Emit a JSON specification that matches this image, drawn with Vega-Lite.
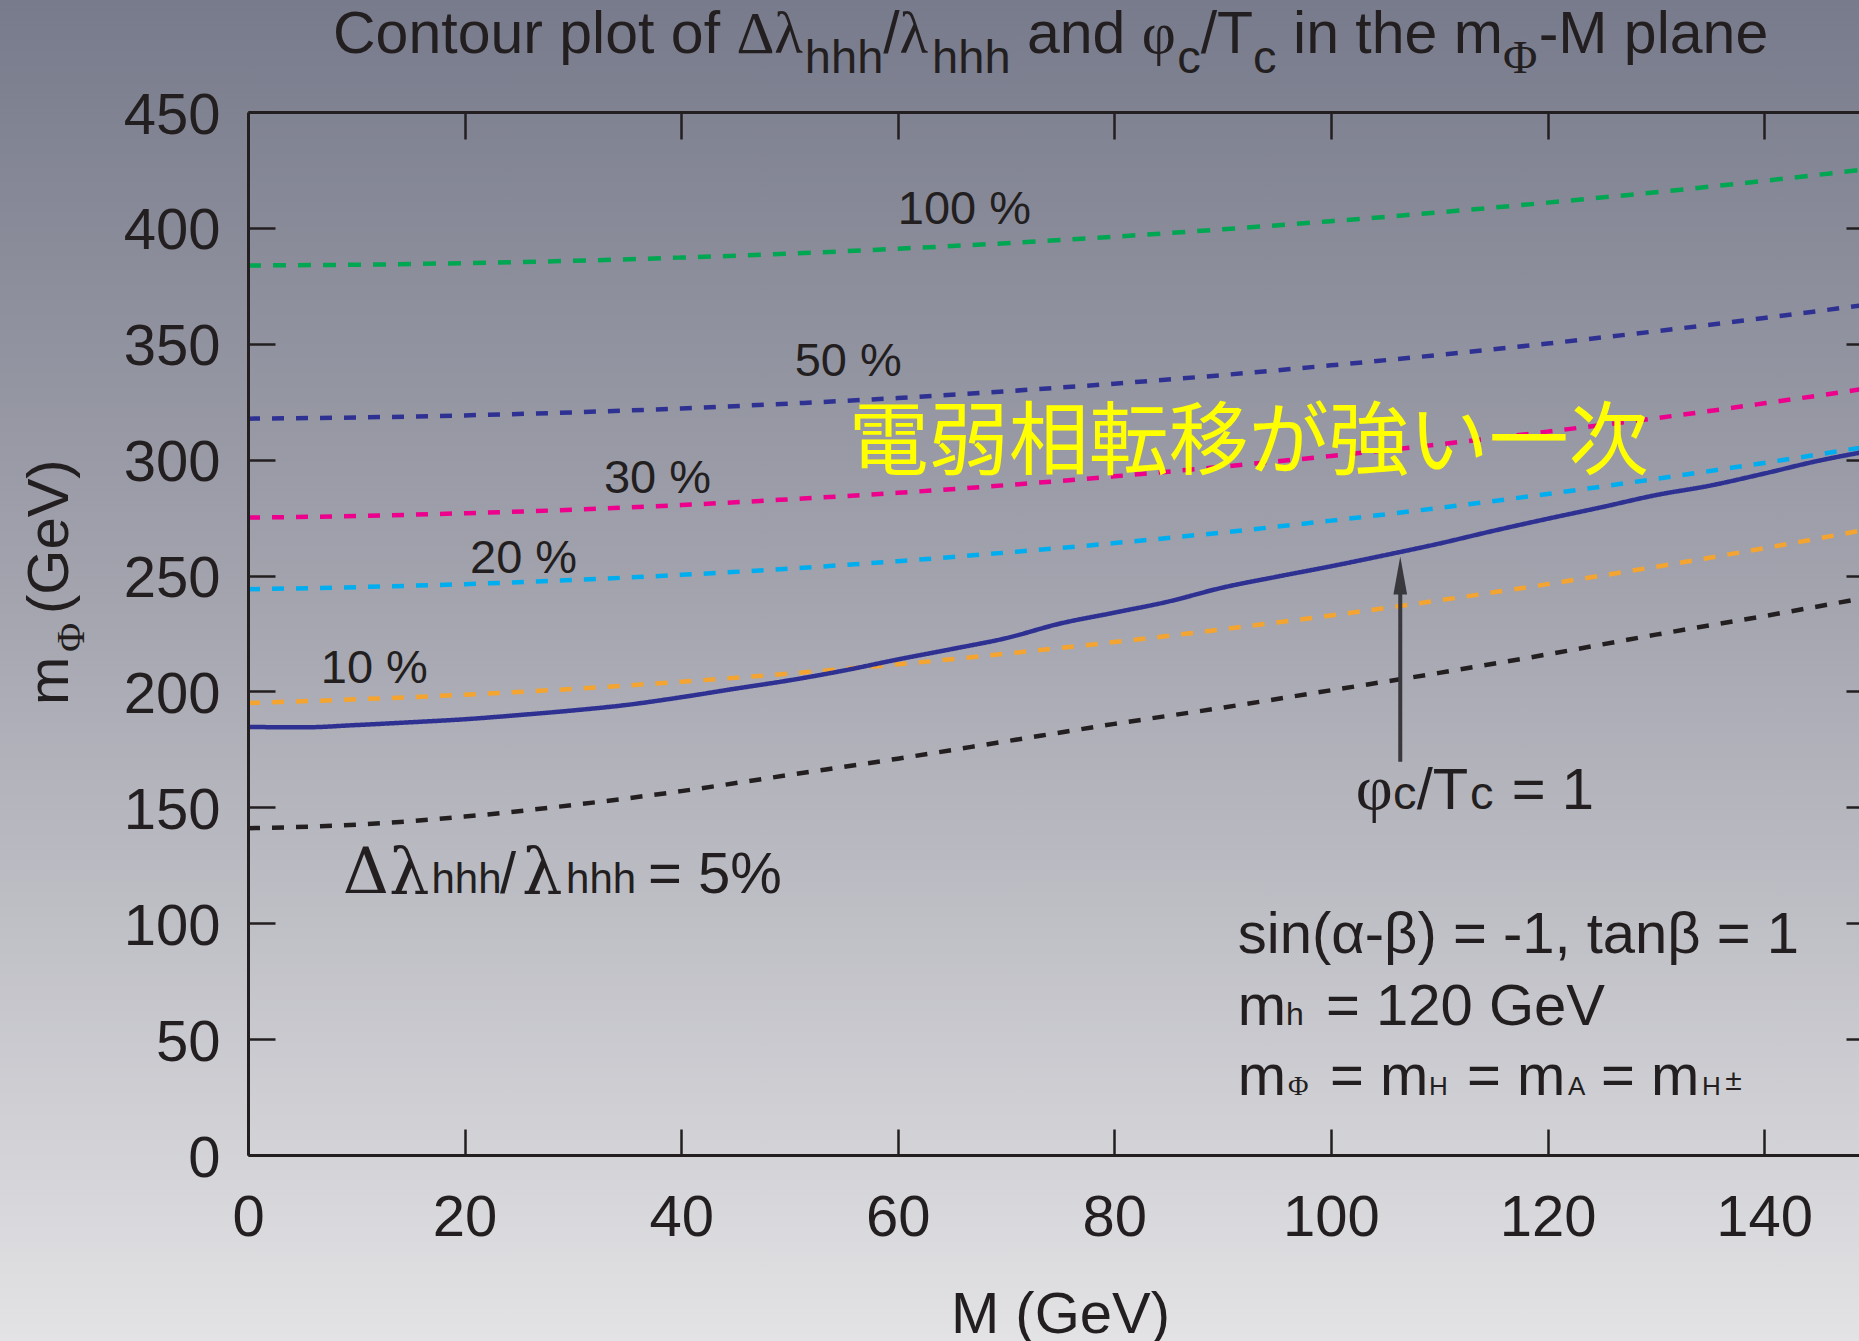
{
  "$schema": "https://vega.github.io/schema/vega-lite/v6.json",
  "width": 1611,
  "height": 1043,
  "autosize": {"type": "none"},
  "padding": {"left": 248, "top": 112, "right": 0, "bottom": 186},
  "background": "#a8a9b1",
  "config": {
    "view": {"stroke": null},
    "font": "Liberation Sans",
    "axis": {
      "grid": false,
      "domainColor": "#231f20",
      "tickColor": "#231f20",
      "labelColor": "#231f20",
      "titleColor": "#231f20",
      "domainWidth": 3,
      "tickWidth": 2.5,
      "labelFont": "Liberation Sans",
      "labelFontSize": 58,
      "titleFont": "Liberation Sans",
      "titleFontSize": 58,
      "titleFontWeight": "normal",
      "labelFlush": false,
      "labelOverlap": false,
      "labelBound": false
    }
  },
  "datasets": {
    "contours": [
      {"series": "100%", "M": 0, "mPhi": 383.8}, {"series": "100%", "M": 10, "mPhi": 384.1}, {"series": "100%", "M": 20, "mPhi": 384.8}, {"series": "100%", "M": 30, "mPhi": 385.8},
      {"series": "100%", "M": 40, "mPhi": 387.2}, {"series": "100%", "M": 50, "mPhi": 388.9}, {"series": "100%", "M": 60, "mPhi": 391.0}, {"series": "100%", "M": 70, "mPhi": 393.4},
      {"series": "100%", "M": 80, "mPhi": 396.2}, {"series": "100%", "M": 90, "mPhi": 399.4}, {"series": "100%", "M": 100, "mPhi": 402.9}, {"series": "100%", "M": 110, "mPhi": 406.7},
      {"series": "100%", "M": 120, "mPhi": 410.9}, {"series": "100%", "M": 130, "mPhi": 415.4}, {"series": "100%", "M": 140, "mPhi": 420.3}, {"series": "100%", "M": 150, "mPhi": 425.6},

      {"series": "50%", "M": 0, "mPhi": 317.7}, {"series": "50%", "M": 10, "mPhi": 318.2}, {"series": "50%", "M": 20, "mPhi": 319.1}, {"series": "50%", "M": 30, "mPhi": 320.4},
      {"series": "50%", "M": 40, "mPhi": 322.1}, {"series": "50%", "M": 50, "mPhi": 324.2}, {"series": "50%", "M": 60, "mPhi": 326.6}, {"series": "50%", "M": 70, "mPhi": 329.5},
      {"series": "50%", "M": 80, "mPhi": 332.8}, {"series": "50%", "M": 90, "mPhi": 336.5}, {"series": "50%", "M": 100, "mPhi": 340.7}, {"series": "50%", "M": 110, "mPhi": 345.2},
      {"series": "50%", "M": 120, "mPhi": 350.1}, {"series": "50%", "M": 130, "mPhi": 355.4}, {"series": "50%", "M": 140, "mPhi": 361.1}, {"series": "50%", "M": 150, "mPhi": 367.2},

      {"series": "30%", "M": 0, "mPhi": 275.0}, {"series": "30%", "M": 10, "mPhi": 275.7}, {"series": "30%", "M": 20, "mPhi": 276.9}, {"series": "30%", "M": 30, "mPhi": 278.4},
      {"series": "30%", "M": 40, "mPhi": 280.4}, {"series": "30%", "M": 50, "mPhi": 282.9}, {"series": "30%", "M": 60, "mPhi": 285.7}, {"series": "30%", "M": 70, "mPhi": 289.0},
      {"series": "30%", "M": 80, "mPhi": 292.8}, {"series": "30%", "M": 90, "mPhi": 297.0}, {"series": "30%", "M": 100, "mPhi": 301.6}, {"series": "30%", "M": 110, "mPhi": 306.6},
      {"series": "30%", "M": 120, "mPhi": 312.1}, {"series": "30%", "M": 130, "mPhi": 317.9}, {"series": "30%", "M": 140, "mPhi": 324.3}, {"series": "30%", "M": 150, "mPhi": 331.1},

      {"series": "20%", "M": 0, "mPhi": 244.1}, {"series": "20%", "M": 10, "mPhi": 245.0}, {"series": "20%", "M": 20, "mPhi": 246.3}, {"series": "20%", "M": 30, "mPhi": 248.1},
      {"series": "20%", "M": 40, "mPhi": 250.3}, {"series": "20%", "M": 50, "mPhi": 253.0}, {"series": "20%", "M": 60, "mPhi": 256.2}, {"series": "20%", "M": 70, "mPhi": 259.9},
      {"series": "20%", "M": 80, "mPhi": 264.0}, {"series": "20%", "M": 90, "mPhi": 268.6}, {"series": "20%", "M": 100, "mPhi": 273.7}, {"series": "20%", "M": 110, "mPhi": 279.2},
      {"series": "20%", "M": 120, "mPhi": 285.2}, {"series": "20%", "M": 130, "mPhi": 291.7}, {"series": "20%", "M": 140, "mPhi": 298.6}, {"series": "20%", "M": 150, "mPhi": 306.0},

      {"series": "10%", "M": 0, "mPhi": 195.0}, {"series": "10%", "M": 10, "mPhi": 196.6}, {"series": "10%", "M": 20, "mPhi": 198.6}, {"series": "10%", "M": 30, "mPhi": 201.1},
      {"series": "10%", "M": 40, "mPhi": 204.2}, {"series": "10%", "M": 50, "mPhi": 207.7}, {"series": "10%", "M": 60, "mPhi": 211.7}, {"series": "10%", "M": 70, "mPhi": 216.3},
      {"series": "10%", "M": 80, "mPhi": 221.3}, {"series": "10%", "M": 90, "mPhi": 226.8}, {"series": "10%", "M": 100, "mPhi": 232.8}, {"series": "10%", "M": 110, "mPhi": 239.3},
      {"series": "10%", "M": 120, "mPhi": 246.3}, {"series": "10%", "M": 130, "mPhi": 253.8}, {"series": "10%", "M": 140, "mPhi": 261.8}, {"series": "10%", "M": 150, "mPhi": 270.3},

      {"series": "5%", "M": 0, "mPhi": 141.0}, {"series": "5%", "M": 10, "mPhi": 142.5}, {"series": "5%", "M": 20, "mPhi": 146.0}, {"series": "5%", "M": 30, "mPhi": 151.0},
      {"series": "5%", "M": 40, "mPhi": 157.0}, {"series": "5%", "M": 50, "mPhi": 164.0}, {"series": "5%", "M": 60, "mPhi": 171.0}, {"series": "5%", "M": 70, "mPhi": 178.5},
      {"series": "5%", "M": 80, "mPhi": 186.0}, {"series": "5%", "M": 90, "mPhi": 193.0}, {"series": "5%", "M": 100, "mPhi": 200.5}, {"series": "5%", "M": 110, "mPhi": 208.0},
      {"series": "5%", "M": 120, "mPhi": 216.0}, {"series": "5%", "M": 130, "mPhi": 224.5}, {"series": "5%", "M": 140, "mPhi": 232.5}, {"series": "5%", "M": 150, "mPhi": 241.0},

      {"series": "φc/Tc = 1", "M": 0, "mPhi": 184.7}, {"series": "φc/Tc = 1", "M": 5, "mPhi": 184.5}, {"series": "φc/Tc = 1", "M": 10, "mPhi": 185.5}, {"series": "φc/Tc = 1", "M": 15, "mPhi": 186.7},
      {"series": "φc/Tc = 1", "M": 20, "mPhi": 188.0}, {"series": "φc/Tc = 1", "M": 25, "mPhi": 189.8}, {"series": "φc/Tc = 1", "M": 30, "mPhi": 191.8}, {"series": "φc/Tc = 1", "M": 35, "mPhi": 194.2},
      {"series": "φc/Tc = 1", "M": 40, "mPhi": 197.5}, {"series": "φc/Tc = 1", "M": 45, "mPhi": 201.2}, {"series": "φc/Tc = 1", "M": 50, "mPhi": 204.8}, {"series": "φc/Tc = 1", "M": 55, "mPhi": 209.0},
      {"series": "φc/Tc = 1", "M": 60, "mPhi": 213.8}, {"series": "φc/Tc = 1", "M": 65, "mPhi": 218.3}, {"series": "φc/Tc = 1", "M": 70, "mPhi": 223.0}, {"series": "φc/Tc = 1", "M": 75, "mPhi": 229.3},
      {"series": "φc/Tc = 1", "M": 80, "mPhi": 234.0}, {"series": "φc/Tc = 1", "M": 85, "mPhi": 238.8}, {"series": "φc/Tc = 1", "M": 90, "mPhi": 244.8}, {"series": "φc/Tc = 1", "M": 95, "mPhi": 249.5},
      {"series": "φc/Tc = 1", "M": 100, "mPhi": 254.0}, {"series": "φc/Tc = 1", "M": 105, "mPhi": 258.8}, {"series": "φc/Tc = 1", "M": 110, "mPhi": 263.8}, {"series": "φc/Tc = 1", "M": 115, "mPhi": 269.3},
      {"series": "φc/Tc = 1", "M": 120, "mPhi": 274.5}, {"series": "φc/Tc = 1", "M": 125, "mPhi": 279.5}, {"series": "φc/Tc = 1", "M": 130, "mPhi": 284.7}, {"series": "φc/Tc = 1", "M": 135, "mPhi": 288.8},
      {"series": "φc/Tc = 1", "M": 140, "mPhi": 294.0}, {"series": "φc/Tc = 1", "M": 145, "mPhi": 299.5}, {"series": "φc/Tc = 1", "M": 150, "mPhi": 304.0}
    ],
    "arrow": [{"M": 106.4, "from": 169.7, "to": 250.0}],
    "titleMain": [
      {"t": "Contour plot of", "x": 7.85, "y": 475.3},
      {"t": "/", "x": 58.66, "y": 475.3},
      {"t": "and", "x": 71.93, "y": 475.3},
      {"t": "/T", "x": 87.97, "y": 475.3},
      {"t": "in the m", "x": 96.5, "y": 475.3},
      {"t": "-M plane", "x": 119.18, "y": 475.3}
    ],
    "serif59": [
      {"t": "Δλ", "x": 45.1, "y": 475.3},
      {"t": "λ", "x": 60.17, "y": 475.3},
      {"t": "φ", "x": 82.53, "y": 475.3}
    ],
    "serif64": [
      {"t": "φ", "x": 102.3, "y": 149.2}
    ],
    "sans47": [
      {"t": "hhh", "x": 51.42, "y": 466.8},
      {"t": "hhh", "x": 63.17, "y": 466.8},
      {"t": "c", "x": 85.8, "y": 466.8},
      {"t": "c", "x": 92.81, "y": 466.8},
      {"t": "100 %", "x": 60.0, "y": 401.5},
      {"t": "50 %", "x": 50.48, "y": 336.2},
      {"t": "30 %", "x": 32.87, "y": 285.5},
      {"t": "20 %", "x": 20.5, "y": 251.0},
      {"t": "10 %", "x": 6.72, "y": 203.8},
      {"t": "c", "x": 105.73, "y": 149.2},
      {"t": "c", "x": 112.84, "y": 149.2}
    ],
    "serif47": [{"t": "Φ", "x": 115.88, "y": 466.8}],
    "sans58": [
      {"t": "/", "x": 23.27, "y": 112.9},
      {"t": "= 5%", "x": 36.94, "y": 112.9},
      {"t": "/T", "x": 107.92, "y": 149.2},
      {"t": "= 1", "x": 116.69, "y": 149.2},
      {"t": "sin(α-β) = -1, tanβ = 1", "x": 91.4, "y": 87.3},
      {"t": "m", "x": 91.4, "y": 56.1},
      {"t": "= 120 GeV", "x": 99.55, "y": 56.1},
      {"t": "m", "x": 91.4, "y": 25.9},
      {"t": "= m", "x": 99.92, "y": 25.9},
      {"t": "= m", "x": 112.56, "y": 25.9},
      {"t": "= m", "x": 124.94, "y": 25.9}
    ],
    "sans42": [
      {"t": "hhh", "x": 16.94, "y": 112.9},
      {"t": "hhh", "x": 29.37, "y": 112.9}
    ],
    "bigGreek": [
      {"t": "Δλ", "x": 8.75, "y": 112.9},
      {"t": "λ", "x": 25.3, "y": 112.9}
    ],
    "sans32": [{"t": "h", "x": 95.85, "y": 56.1}],
    "sans26": [
      {"t": "H", "x": 109.06, "y": 25.9},
      {"t": "A", "x": 121.89, "y": 25.9},
      {"t": "H", "x": 134.27, "y": 25.9}
    ],
    "sans30": [{"t": "±", "x": 136.4, "y": 28.0}],
    "serif28": [{"t": "Φ", "x": 96.04, "y": 25.9}],
    "yTitle": [
      {"t": "m", "x": -16.62, "y": 194.15},
      {"t": "(GeV)", "x": -16.62, "y": 233.4}
    ],
    "yTitleSub": [{"t": "Φ", "x": -15.14, "y": 217.0}],
    "note": [{"t": "電弱相転移が強い一次", "x": 55.47, "y": 296.5}]
  },
  "resolve": {"axis": {"x": "independent", "y": "independent"}},
  "layer": [
    {
      "data": {"values": [{}]},
      "mark": {
        "type": "rect",
        "fill": {
          "gradient": "linear", "x1": 0, "y1": 0, "x2": 0, "y2": 1,
          "stops": [
            {"offset": 0, "color": "#76798a"},
            {"offset": 0.45, "color": "#a3a4ae"},
            {"offset": 1, "color": "#e5e5e7"}
          ]
        }
      },
      "encoding": {
        "x": {"datum": -30, "type": "quantitative", "scale": {"domain": [0, 148.76], "nice": false, "zero": false}, "axis": null},
        "x2": {"datum": 160},
        "y": {"datum": 510, "type": "quantitative", "scale": {"domain": [0, 450], "nice": false, "zero": false}, "axis": null},
        "y2": {"datum": -90}
      }
    },
    {
      "data": {"name": "contours"},
      "mark": {"type": "line", "strokeWidth": 4.5, "interpolate": "monotone"},
      "encoding": {
        "x": {
          "field": "M", "type": "quantitative",
          "axis": {
            "orient": "bottom", "zindex": 2, "values": [0, 20, 40, 60, 80, 100, 120, 140],
            "tickSize": -26, "labelPadding": 60,
            "title": "M (GeV)", "titleX": 812, "titleY": 177,
            "titleAlign": "center", "titleBaseline": "alphabetic"
          }
        },
        "y": {
          "field": "mPhi", "type": "quantitative",
          "axis": {
            "orient": "left", "zindex": 2, "values": [0, 50, 100, 150, 200, 250, 300, 350, 400, 450],
            "tickSize": -27, "labelPadding": 55, "labelOffset": 4, "title": null
          }
        },
        "color": {
          "field": "series", "type": "nominal", "legend": null,
          "scale": {
            "domain": ["100%", "50%", "30%", "20%", "10%", "5%", "φc/Tc = 1"],
            "range": ["#00a651", "#2e3192", "#ec008c", "#00aeef", "#f4a431", "#231f20", "#2e3192"]
          }
        },
        "strokeDash": {
          "field": "series", "type": "nominal", "legend": null,
          "scale": {
            "domain": ["100%", "50%", "30%", "20%", "10%", "5%", "φc/Tc = 1"],
            "range": [[13, 12], [12, 12], [12, 12], [12, 12], [12, 12], [12, 12], [1, 0]]
          }
        }
      }
    },
    {
      "data": {"name": "arrow"},
      "mark": {"type": "rule", "strokeWidth": 4, "color": "#38383d"},
      "encoding": {
        "x": {
          "field": "M", "type": "quantitative",
          "axis": {
            "orient": "top", "zindex": 2, "values": [20, 40, 60, 80, 100, 120, 140],
            "tickSize": -27, "labels": false, "title": null
          }
        },
        "y": {
          "field": "from", "type": "quantitative",
          "axis": {
            "orient": "right", "zindex": 2, "values": [50, 100, 150, 200, 250, 300, 350, 400],
            "tickSize": -13, "labels": false, "domain": false, "title": null
          }
        },
        "y2": {"field": "to"}
      }
    },
    {
      "data": {"name": "arrow"},
      "mark": {"type": "point", "shape": "M0,-1L0.36,1L-0.36,1Z", "size": 1444, "filled": true, "color": "#38383d", "opacity": 1},
      "encoding": {
        "x": {"field": "M", "type": "quantitative", "axis": null},
        "y": {"field": "to", "type": "quantitative", "axis": null}
      }
    },
    {
      "data": {"name": "titleMain"},
      "mark": {"type": "text", "font": "Liberation Sans", "fontSize": 59, "align": "left", "baseline": "alphabetic", "color": "#231f20"},
      "encoding": {"x": {"field": "x", "type": "quantitative", "axis": null}, "y": {"field": "y", "type": "quantitative", "axis": null}, "text": {"field": "t"}}
    },
    {
      "data": {"name": "serif59"},
      "mark": {"type": "text", "font": "Liberation Serif", "fontSize": 59, "align": "left", "baseline": "alphabetic", "color": "#231f20"},
      "encoding": {"x": {"field": "x", "type": "quantitative", "axis": null}, "y": {"field": "y", "type": "quantitative", "axis": null}, "text": {"field": "t"}}
    },
    {
      "data": {"name": "serif64"},
      "mark": {"type": "text", "font": "Liberation Serif", "fontSize": 64, "align": "left", "baseline": "alphabetic", "color": "#231f20"},
      "encoding": {"x": {"field": "x", "type": "quantitative", "axis": null}, "y": {"field": "y", "type": "quantitative", "axis": null}, "text": {"field": "t"}}
    },
    {
      "data": {"name": "sans47"},
      "mark": {"type": "text", "font": "Liberation Sans", "fontSize": 47, "align": "left", "baseline": "alphabetic", "color": "#231f20"},
      "encoding": {"x": {"field": "x", "type": "quantitative", "axis": null}, "y": {"field": "y", "type": "quantitative", "axis": null}, "text": {"field": "t"}}
    },
    {
      "data": {"name": "serif47"},
      "mark": {"type": "text", "font": "Liberation Serif", "fontSize": 47, "align": "left", "baseline": "alphabetic", "color": "#231f20"},
      "encoding": {"x": {"field": "x", "type": "quantitative", "axis": null}, "y": {"field": "y", "type": "quantitative", "axis": null}, "text": {"field": "t"}}
    },
    {
      "data": {"name": "sans58"},
      "mark": {"type": "text", "font": "Liberation Sans", "fontSize": 58, "align": "left", "baseline": "alphabetic", "color": "#231f20"},
      "encoding": {"x": {"field": "x", "type": "quantitative", "axis": null}, "y": {"field": "y", "type": "quantitative", "axis": null}, "text": {"field": "t"}}
    },
    {
      "data": {"name": "sans42"},
      "mark": {"type": "text", "font": "Liberation Sans", "fontSize": 42, "align": "left", "baseline": "alphabetic", "color": "#231f20"},
      "encoding": {"x": {"field": "x", "type": "quantitative", "axis": null}, "y": {"field": "y", "type": "quantitative", "axis": null}, "text": {"field": "t"}}
    },
    {
      "data": {"name": "bigGreek"},
      "mark": {"type": "text", "font": "DejaVu Serif", "fontSize": 64, "align": "left", "baseline": "alphabetic", "color": "#231f20"},
      "encoding": {"x": {"field": "x", "type": "quantitative", "axis": null}, "y": {"field": "y", "type": "quantitative", "axis": null}, "text": {"field": "t"}}
    },
    {
      "data": {"name": "sans32"},
      "mark": {"type": "text", "font": "Liberation Sans", "fontSize": 32, "align": "left", "baseline": "alphabetic", "color": "#231f20"},
      "encoding": {"x": {"field": "x", "type": "quantitative", "axis": null}, "y": {"field": "y", "type": "quantitative", "axis": null}, "text": {"field": "t"}}
    },
    {
      "data": {"name": "sans26"},
      "mark": {"type": "text", "font": "Liberation Sans", "fontSize": 26, "align": "left", "baseline": "alphabetic", "color": "#231f20"},
      "encoding": {"x": {"field": "x", "type": "quantitative", "axis": null}, "y": {"field": "y", "type": "quantitative", "axis": null}, "text": {"field": "t"}}
    },
    {
      "data": {"name": "sans30"},
      "mark": {"type": "text", "font": "Liberation Sans", "fontSize": 30, "align": "left", "baseline": "alphabetic", "color": "#231f20"},
      "encoding": {"x": {"field": "x", "type": "quantitative", "axis": null}, "y": {"field": "y", "type": "quantitative", "axis": null}, "text": {"field": "t"}}
    },
    {
      "data": {"name": "serif28"},
      "mark": {"type": "text", "font": "Liberation Serif", "fontSize": 28, "align": "left", "baseline": "alphabetic", "color": "#231f20"},
      "encoding": {"x": {"field": "x", "type": "quantitative", "axis": null}, "y": {"field": "y", "type": "quantitative", "axis": null}, "text": {"field": "t"}}
    },
    {
      "data": {"name": "yTitle"},
      "mark": {"type": "text", "font": "Liberation Sans", "fontSize": 58, "angle": 270, "align": "left", "baseline": "alphabetic", "color": "#231f20"},
      "encoding": {"x": {"field": "x", "type": "quantitative", "axis": null}, "y": {"field": "y", "type": "quantitative", "axis": null}, "text": {"field": "t"}}
    },
    {
      "data": {"name": "yTitleSub"},
      "mark": {"type": "text", "font": "Liberation Serif", "fontSize": 40, "angle": 270, "align": "left", "baseline": "alphabetic", "color": "#231f20"},
      "encoding": {"x": {"field": "x", "type": "quantitative", "axis": null}, "y": {"field": "y", "type": "quantitative", "axis": null}, "text": {"field": "t"}}
    },
    {
      "data": {"name": "note"},
      "mark": {"type": "text", "font": "Noto Sans CJK JP", "fontSize": 80, "align": "left", "baseline": "alphabetic", "color": "#ffff00"},
      "encoding": {"x": {"field": "x", "type": "quantitative", "axis": null}, "y": {"field": "y", "type": "quantitative", "axis": null}, "text": {"field": "t"}}
    }
  ]
}
